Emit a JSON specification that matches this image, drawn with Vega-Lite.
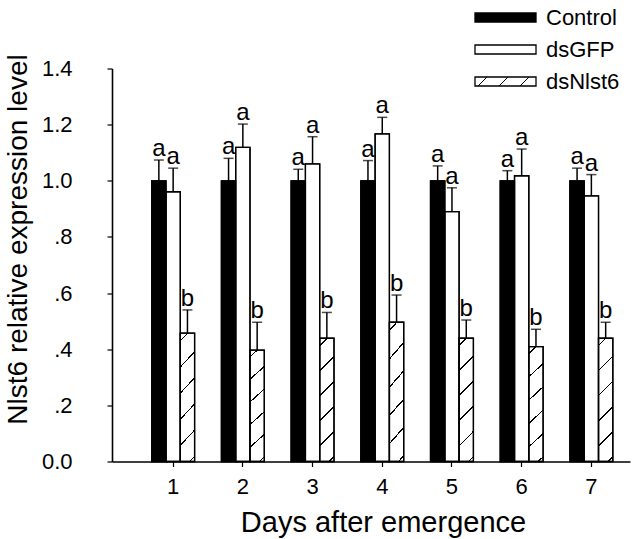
{
  "$schema": "https://vega.github.io/schema/vega-lite/v6.json",
  "width": 518,
  "height": 393,
  "autosize": {"type": "none"},
  "padding": {"left": 112, "top": 68.5, "right": 14, "bottom": 77.5},
  "background": "white",
  "config": {
    "view": {"stroke": null},
    "font": "Liberation Sans",
    "axis": {
      "grid": false,
      "domainColor": "black",
      "tickColor": "black",
      "labelColor": "black",
      "titleColor": "black",
      "domainWidth": 1.6,
      "tickWidth": 1.2,
      "titleFontWeight": "normal",
      "labelFont": "Liberation Sans",
      "titleFont": "Liberation Sans"
    }
  },
  "data": {
    "values": [
      {"day": "1", "group": "Control", "value": 1.0, "upper": 1.074, "letter": "a"},
      {"day": "1", "group": "dsGFP", "value": 0.961, "upper": 1.045, "letter": "a"},
      {"day": "1", "group": "dsNlst6", "value": 0.457, "upper": 0.540, "letter": "b"},
      {"day": "2", "group": "Control", "value": 1.0, "upper": 1.080, "letter": "a"},
      {"day": "2", "group": "dsGFP", "value": 1.119, "upper": 1.202, "letter": "a"},
      {"day": "2", "group": "dsNlst6", "value": 0.397, "upper": 0.496, "letter": "b"},
      {"day": "3", "group": "Control", "value": 1.0, "upper": 1.041, "letter": "a"},
      {"day": "3", "group": "dsGFP", "value": 1.060, "upper": 1.157, "letter": "a"},
      {"day": "3", "group": "dsNlst6", "value": 0.439, "upper": 0.531, "letter": "b"},
      {"day": "4", "group": "Control", "value": 1.0, "upper": 1.072, "letter": "a"},
      {"day": "4", "group": "dsGFP", "value": 1.167, "upper": 1.226, "letter": "a"},
      {"day": "4", "group": "dsNlst6", "value": 0.496, "upper": 0.593, "letter": "b"},
      {"day": "5", "group": "Control", "value": 1.0, "upper": 1.053, "letter": "a"},
      {"day": "5", "group": "dsGFP", "value": 0.890, "upper": 0.975, "letter": "a"},
      {"day": "5", "group": "dsNlst6", "value": 0.439, "upper": 0.504, "letter": "b"},
      {"day": "6", "group": "Control", "value": 1.0, "upper": 1.036, "letter": "a"},
      {"day": "6", "group": "dsGFP", "value": 1.018, "upper": 1.113, "letter": "a"},
      {"day": "6", "group": "dsNlst6", "value": 0.409, "upper": 0.471, "letter": "b"},
      {"day": "7", "group": "Control", "value": 1.0, "upper": 1.045, "letter": "a"},
      {"day": "7", "group": "dsGFP", "value": 0.946, "upper": 1.022, "letter": "a"},
      {"day": "7", "group": "dsNlst6", "value": 0.439, "upper": 0.496, "letter": "b"}
    ]
  },
  "resolve": {"scale": {"fill": "independent"}},
  "encoding": {
    "x": {
      "field": "day",
      "type": "nominal",
      "scale": {"paddingInner": 0.3845, "paddingOuter": 0.408, "align": 0.698},
      "axis": {
        "title": "Days after emergence",
        "labelAngle": 0,
        "labelFontSize": 22,
        "labelPadding": 10,
        "tickSize": 5,
        "titleFontSize": 29,
        "titleX": 271,
        "titleY": 70,
        "titleBaseline": "alphabetic",
        "titleAlign": "center",
        "titleAnchor": "middle"
      }
    },
    "xOffset": {
      "field": "group",
      "type": "nominal",
      "scale": {"domain": ["Control", "dsGFP", "dsNlst6"], "paddingInner": 0, "paddingOuter": 0}
    }
  },
  "layer": [
    {
      "mark": {"type": "bar", "stroke": "black", "strokeWidth": 1.3},
      "encoding": {
        "y": {
          "field": "value",
          "type": "quantitative",
          "title": "Nlst6 relative expression level",
          "scale": {"domain": [0, 1.4], "nice": false, "zero": true},
          "axis": {
            "values": [0, 0.2, 0.4, 0.6, 0.8, 1.0, 1.2, 1.4],
            "labelExpr": "datum.value == 0 ? '0.0' : (datum.value < 0.99 ? '.' + round(datum.value * 10) : format(datum.value, '.1f'))",
            "labelFontSize": 22,
            "labelPadding": 35,
            "tickSize": 5,
            "titleFontSize": 28,
            "titleX": -85.3,
            "titleY": 170.5,
            "titleAngle": -90,
            "titleBaseline": "alphabetic",
            "titleAlign": "center"
          }
        },
        "fill": {
          "condition": {
            "test": "datum.group === 'dsNlst6'",
            "value": {
              "gradient": "linear",
              "x1": 0, "y1": 0, "x2": 0.128, "y2": 1.101,
              "stops": [
                {"offset": 0, "color": "white"},
                {"offset": 0.047, "color": "white"},
                {"offset": 0.047, "color": "black"},
                {"offset": 0.059, "color": "black"},
                {"offset": 0.059, "color": "white"},
                {"offset": 0.2293, "color": "white"},
                {"offset": 0.2293, "color": "black"},
                {"offset": 0.2413, "color": "black"},
                {"offset": 0.2413, "color": "white"},
                {"offset": 0.4113, "color": "white"},
                {"offset": 0.4113, "color": "black"},
                {"offset": 0.4233, "color": "black"},
                {"offset": 0.4233, "color": "white"},
                {"offset": 0.5934, "color": "white"},
                {"offset": 0.5934, "color": "black"},
                {"offset": 0.6054, "color": "black"},
                {"offset": 0.6054, "color": "white"},
                {"offset": 0.7755, "color": "white"},
                {"offset": 0.7755, "color": "black"},
                {"offset": 0.7875, "color": "black"},
                {"offset": 0.7875, "color": "white"},
                {"offset": 0.9576, "color": "white"},
                {"offset": 0.9576, "color": "black"},
                {"offset": 0.9696, "color": "black"},
                {"offset": 0.9696, "color": "white"},
                {"offset": 1, "color": "white"}
              ]
            }
          },
          "field": "group",
          "type": "nominal",
          "scale": {"domain": ["Control", "dsGFP", "dsNlst6"], "range": ["black", "white", "white"]},
          "legend": null
        }
      }
    },
    {
      "mark": {"type": "bar", "fill": "white", "fillOpacity": 0, "stroke": "black", "strokeWidth": 1.3},
      "encoding": {
        "y": {"field": "value", "type": "quantitative", "title": "Nlst6 relative expression level"}
      }
    },
    {
      "transform": [{"filter": "false"}],
      "mark": {"type": "bar", "stroke": "black", "strokeWidth": 1.3},
      "encoding": {
        "y": {"field": "value", "type": "quantitative", "title": "Nlst6 relative expression level"},
        "fill": {
          "field": "group",
          "type": "nominal",
          "scale": {
            "domain": ["Control", "dsGFP", "dsNlst6"],
            "range": [
              "black",
              "white",
              {"expr": "{gradient: 'linear', x1: 0, y1: 0, x2: 1.123, y2: 0.1656, stops: [{offset: 0, color: 'white'}, {offset: 0.16, color: 'white'}, {offset: 0.16, color: 'black'}, {offset: 0.182, color: 'black'}, {offset: 0.182, color: 'white'}, {offset: 0.46, color: 'white'}, {offset: 0.46, color: 'black'}, {offset: 0.482, color: 'black'}, {offset: 0.482, color: 'white'}, {offset: 0.76, color: 'white'}, {offset: 0.76, color: 'black'}, {offset: 0.782, color: 'black'}, {offset: 0.782, color: 'white'}, {offset: 1, color: 'white'}]}"}
            ]
          },
          "legend": {
            "orient": "none",
            "legendX": 382.5,
            "legendY": -62,
            "title": null,
            "direction": "vertical",
            "symbolType": "M-6.78,-1H6.78V1H-6.78Z",
            "symbolSize": 81,
            "symbolStrokeColor": "black",
            "symbolStrokeWidth": 1.3,
            "symbolOpacity": 1,
            "labelFontSize": 22,
            "labelFont": "Liberation Sans",
            "labelColor": "black",
            "labelOffset": 29.5,
            "rowPadding": 10,
            "padding": 0
          }
        }
      }
    },
    {
      "mark": {"type": "rule", "color": "black", "strokeWidth": 1.5},
      "encoding": {
        "y": {"field": "value", "type": "quantitative", "title": "Nlst6 relative expression level"},
        "y2": {"field": "upper"}
      }
    },
    {
      "mark": {"type": "tick", "color": "black", "thickness": 1.5, "size": 10},
      "encoding": {
        "y": {"field": "upper", "type": "quantitative", "title": "Nlst6 relative expression level"}
      }
    },
    {
      "mark": {"type": "text", "baseline": "alphabetic", "dy": -4, "fontSize": 24, "font": "Liberation Sans", "color": "black"},
      "encoding": {
        "y": {"field": "upper", "type": "quantitative", "title": "Nlst6 relative expression level"},
        "text": {"field": "letter"}
      }
    }
  ]
}
